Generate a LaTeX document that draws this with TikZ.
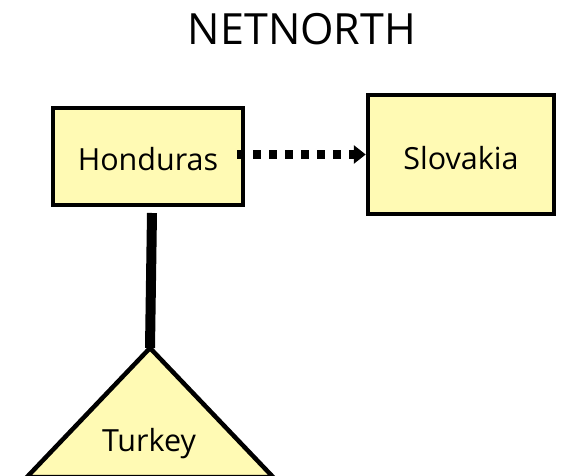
\documentclass[tikz,border=0pt]{standalone}
\usepackage{fontspec}
\setmainfont{Open Sans}
\usetikzlibrary{arrows.meta}
\definecolor{boxfill}{RGB}{255,250,180}
\tikzset{
  x=1pt, y=1pt,
  entbox/.style={draw=black, line width=4.5pt, fill=boxfill, inner sep=0pt},
  lbl/.style={font=\fontsize{30.5}{33}\selectfont},
}
\begin{document}
\begin{tikzpicture}
\useasboundingbox (0,0) rectangle (562,475);
\node[font=\fontsize{43}{46}\selectfont] (title) at (302,446) {NETNORTH};
\node[entbox, minimum width=190pt, minimum height=97pt] (hon) at (148,318.5) {};
\node[lbl] (hontxt) at (148,316) {Honduras};
\node[entbox, minimum width=186pt, minimum height=119pt] (slo) at (461,320.5) {};
\node[lbl] (slotxt) at (461,317) {Slovakia};
\coordinate (apex) at (150,127);
\coordinate (bl) at (27,-2);
\coordinate (br) at (273,-2);
\draw[line width=4.5pt, fill=boxfill, line join=miter] (apex) -- (bl) -- (br) -- cycle;
\node[lbl] (tur) at (149,31) {Turkey};
\coordinate (vtop) at (152,262);
\draw[line width=10pt] (vtop) -- (apex);
\draw[line width=9pt, dash pattern=on 8pt off 8pt, -{Triangle[length=12pt,width=18pt]}] (hon.east) ++(-8,2) coordinate (ds) (ds) -- (slo.west |- ds);
\end{tikzpicture}
\end{document}
